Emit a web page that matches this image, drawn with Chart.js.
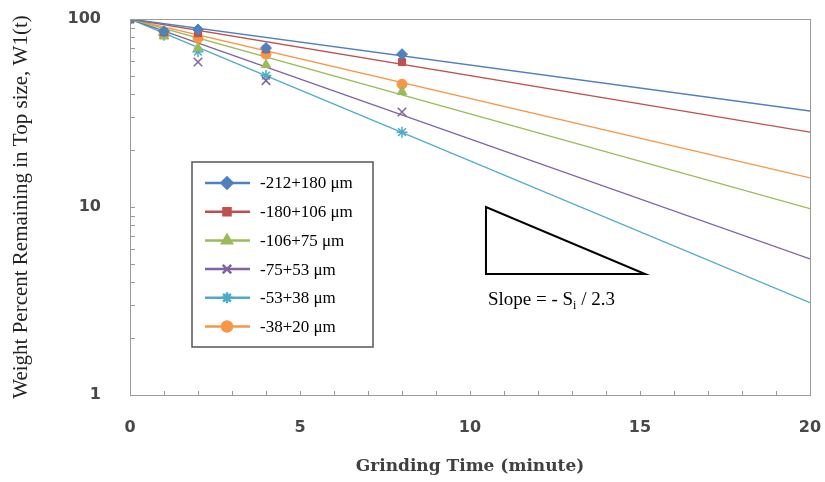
<!DOCTYPE html>
<html>
<head>
<meta charset="utf-8">
<script src="https://cdn.jsdelivr.net/npm/chart.js@4.4.1/dist/chart.umd.min.js"></script>
<style>
  body { margin: 0; background: #fff; }
  #wrap { width: 825px; height: 482px; }
</style>
</head>
<body>
<div id="wrap"><canvas id="breakageChart" width="825" height="482"></canvas></div>
<script>
  // Grinding times where samples were taken (minutes)
  const times = [0, 1, 2, 4, 8];

  // Size fractions
  const sizeLabels = ['-212+180 μm', '-180+106 μm', '-106+75 μm', '-75+53 μm', '-53+38 μm', '-38+20 μm'];

  // Weight percent remaining in top size, one array per fraction
  const w212 = [100, 86, 88, 70, 65];
  const w180 = [100, 85, 84, 69, 59];
  const w106 = [100, 81, 70, 57, 41];
  const w75 = [100, 83, 59, 47, 32];
  const w53 = [100, 82, 67, 50, 25];
  const w38 = [100, 83, 79, 65, 45];

  // First-order fit lines: value at t = 0 and t = 20 min
  const fitTimes = [0, 20];
  const fitStart = [100, 100, 100, 100, 100, 100];
  const fitEnd = [32.4, 25, 9.8, 5.3, 3.1, 14.3];

  // Axis ticks
  const xTickLabels = [0, 5, 10, 15, 20];
  const yTickLabels = [1, 10, 100];

  const seriesValues = [w212, w180, w106, w75, w53, w38];
  const colors = ['#4F81BD', '#C0504D', '#9BBB59', '#8064A2', '#4BACC6', '#F79646'];
  const markerStyles = ['rectRot', 'rect', 'triangle', 'crossRot', 'star', 'circle'];
  const markerRadius = [5.5, 5, 5.5, 6, 5.5, 5];

  const datasets = [];
  // fit lines first so markers sit on top
  sizeLabels.forEach((label, i) => {
    datasets.push({
      label: label + ' fit',
      data: fitTimes.map((t, k) => ({ x: t, y: k === 0 ? fitStart[i] : fitEnd[i] })),
      borderColor: colors[i],
      borderWidth: 1.3,
      pointRadius: 0,
      showLine: true,
      order: 2
    });
  });
  sizeLabels.forEach((label, i) => {
    datasets.push({
      label: label,
      data: times.map((t, k) => ({ x: t, y: seriesValues[i][k] })),
      showLine: false,
      pointStyle: markerStyles[i],
      pointRadius: markerRadius[i],
      backgroundColor: colors[i],
      borderColor: colors[i],
      borderWidth: markerStyles[i] === 'crossRot' || markerStyles[i] === 'star' ? 1.5 : 1,
      order: 1
    });
  });

  // Frame, inward minor ticks, legend box and slope triangle
  const decorations = {
    id: 'decorations',
    afterDatasetsDraw(chart) {
      const ctx = chart.ctx;
      const area = chart.chartArea;
      const xs = chart.scales.x;
      const ys = chart.scales.y;
      ctx.save();

      // plot frame
      ctx.strokeStyle = '#9a9a9a';
      ctx.lineWidth = 1;
      ctx.strokeRect(area.left + 0.5, area.top + 0.5, area.right - area.left, area.bottom - area.top);

      // x ticks every minute
      ctx.beginPath();
      for (let t = 1; t < 20; t++) {
        const px = Math.round(xs.getPixelForValue(t)) + 0.5;
        ctx.moveTo(px, area.bottom);
        ctx.lineTo(px, area.bottom - 4);
      }
      // y ticks at each log step
      [2, 3, 4, 5, 6, 7, 8, 9, 10, 20, 30, 40, 50, 60, 70, 80, 90].forEach(v => {
        const py = Math.round(ys.getPixelForValue(v)) + 0.5;
        ctx.moveTo(area.left, py);
        ctx.lineTo(area.left + 5, py);
      });
      ctx.stroke();

      // legend
      const lx = area.left + 62, ly = area.top + 143;
      ctx.strokeStyle = '#555';
      ctx.lineWidth = 1.5;
      ctx.strokeRect(lx, ly, 181, 185);
      ctx.font = '17px "Liberation Serif", "Times New Roman", serif';
      ctx.textBaseline = 'middle';
      ctx.textAlign = 'left';
      sizeLabels.forEach((label, i) => {
        const y = ly + 21 + i * 28.7;
        ctx.strokeStyle = colors[i];
        ctx.lineWidth = 2.5;
        ctx.beginPath();
        ctx.moveTo(lx + 13, y);
        ctx.lineTo(lx + 58, y);
        ctx.stroke();
        ctx.fillStyle = colors[i];
        ctx.strokeStyle = colors[i];
        Chart.helpers.drawPoint(ctx, {
          pointStyle: markerStyles[i],
          radius: markerRadius[i],
          rotation: 0,
          borderWidth: 1.5
        }, lx + 35, y);
        ctx.fillStyle = '#000';
        ctx.fillText(label, lx + 68, y + 1);
      });

      // slope triangle
      const tx0 = xs.getPixelForValue(10.47), tx1 = xs.getPixelForValue(15.15);
      const ty0 = ys.getPixelForValue(10), ty1 = ys.getPixelForValue(4.4);
      ctx.strokeStyle = '#000';
      ctx.lineWidth = 2;
      ctx.beginPath();
      ctx.moveTo(tx0, ty0);
      ctx.lineTo(tx0, ty1);
      ctx.lineTo(tx1, ty1);
      ctx.closePath();
      ctx.stroke();

      // slope text with subscript i
      ctx.fillStyle = '#000';
      ctx.textBaseline = 'alphabetic';
      ctx.font = '19px "Liberation Serif", "Times New Roman", serif';
      let cx = tx0 + 2;
      const base = ty1 + 31;
      const part1 = 'Slope = - S';
      ctx.fillText(part1, cx, base);
      cx += ctx.measureText(part1).width;
      ctx.font = '12px "Liberation Serif", "Times New Roman", serif';
      ctx.fillText('i', cx, base + 4);
      cx += ctx.measureText('i').width;
      ctx.font = '19px "Liberation Serif", "Times New Roman", serif';
      ctx.fillText(' / 2.3', cx, base);

      ctx.restore();
    }
  };

  new Chart(document.getElementById('breakageChart'), {
    type: 'scatter',
    data: { datasets: datasets },
    options: {
      responsive: false,
      animation: false,
      layout: { padding: { left: 0, right: 15, top: 19, bottom: 0 } },
      plugins: {
        legend: { display: false },
        tooltip: { enabled: false }
      },
      scales: {
        x: {
          type: 'linear',
          min: 0,
          max: 20,
          afterBuildTicks: scale => { scale.ticks = xTickLabels.map(v => ({ value: v })); },
          afterFit: scale => {
            scale.height = 87;
            scale.paddingLeft = 0;
            scale.paddingRight = 0;
          },
          grid: { display: false, drawTicks: false },
          border: { display: false },
          ticks: {
            padding: 23,
            color: '#484848',
            font: { family: '"DejaVu Sans", Verdana, sans-serif', size: 16, weight: 'bold' }
          },
          title: {
            display: true,
            text: 'Grinding Time (minute)',
            color: '#404040',
            padding: { top: 0, bottom: 5 },
            font: { family: '"DejaVu Serif", Cambria, serif', size: 17, weight: 'bold' }
          }
        },
        y: {
          type: 'logarithmic',
          min: 1,
          max: 100,
          afterBuildTicks: scale => { scale.ticks = yTickLabels.map(v => ({ value: v })); },
          afterFit: scale => {
            scale.width = 130;
            scale.paddingTop = 0;
            scale.paddingBottom = 0;
          },
          grid: { display: false, drawTicks: false },
          border: { display: false },
          ticks: {
            padding: 29,
            color: '#484848',
            font: { family: '"DejaVu Sans", Verdana, sans-serif', size: 16, weight: 'bold' },
            callback: v => String(v)
          },
          title: {
            display: true,
            text: 'Weight Percent Remaining in Top size, W1(t)',
            color: '#222',
            padding: { top: 9, bottom: 0 },
            font: { family: '"Liberation Serif", "Times New Roman", serif', size: 21 }
          }
        }
      }
    },
    plugins: [decorations]
  });
</script>
</body>
</html>
